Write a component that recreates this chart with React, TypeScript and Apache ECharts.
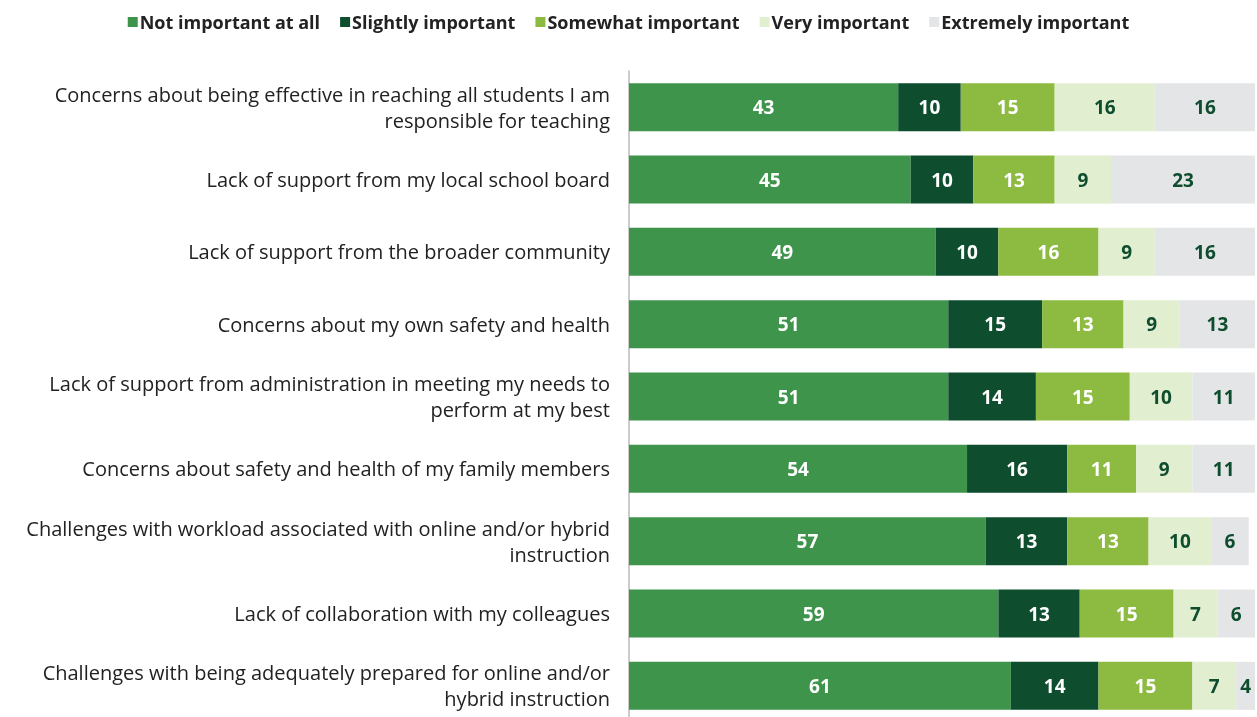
import React, { useEffect, useRef } from "react";
import * as echarts from "echarts";

const categories = [
  "Concerns about being effective in reaching all students I am\nresponsible for teaching",
  "Lack of support from my local school board",
  "Lack of support from the broader community",
  "Concerns about my own safety and health",
  "Lack of support from administration in meeting my needs to\nperform at my best",
  "Concerns about safety and health of my family members",
  "Challenges with workload associated with online and/or hybrid\ninstruction",
  "Lack of collaboration with my colleagues",
  "Challenges with being adequately prepared for online and/or\nhybrid instruction",
];

const seriesNames = [
  "Not important at all",
  "Slightly important",
  "Somewhat important",
  "Very important",
  "Extremely important",
];

const notImportant = [43, 45, 49, 51, 51, 54, 57, 59, 61];
const slightly = [10, 10, 10, 15, 14, 16, 13, 13, 14];
const somewhat = [15, 13, 16, 13, 15, 11, 13, 15, 15];
const very = [16, 9, 9, 9, 10, 9, 10, 7, 7];
const extremely = [16, 23, 16, 13, 11, 11, 6, 6, 4];

const colors = ["#3d944a", "#0e4d2d", "#8dbb41", "#e2eed0", "#e4e5e7"];
const labelColors = ["#ffffff", "#ffffff", "#ffffff", "#0e4d2d", "#0e4d2d"];

const FONT = "'Open Sans', sans-serif";

export default function App() {
  const ref = useRef<HTMLDivElement>(null);
  useEffect(() => {
    if (!ref.current) return;
    const chart = echarts.init(ref.current, undefined, { renderer: "svg" });
    const data = [notImportant, slightly, somewhat, very, extremely];
    chart.setOption({
      animation: false,
      legend: {
        top: 8,
        left: "center",
        itemWidth: 10,
        itemHeight: 10,
        itemGap: 20,
        icon: "rect",
        textStyle: { fontFamily: FONT, fontSize: 18, fontWeight: "bold", color: "#222", padding: [0, 0, 0, -3] },
        data: seriesNames,
      },
      grid: { left: 629, right: 2, top: 71, height: 651, containLabel: false },
      xAxis: {
        type: "value",
        min: 0,
        max: 100,
        show: false,
      },
      yAxis: {
        type: "category",
        inverse: true,
        data: categories,
        axisLine: { show: true, lineStyle: { color: "#bbbbbb", width: 1.5 } },
        axisTick: { show: false },
        axisLabel: {
          margin: 19,
          fontFamily: FONT,
          fontSize: 20,
          color: "#222",
          lineHeight: 26,
          align: "right",
        },
      },
      series: seriesNames.map((name, i) => ({
        name,
        type: "bar",
        stack: "total",
        barWidth: 48,
        data: data[i],
        itemStyle: { color: colors[i] },
        label: {
          show: true,
          position: "inside",
          fontFamily: FONT,
          fontSize: 19,
          fontWeight: "bold",
          color: labelColors[i],
        },
      })),
    });
    return () => chart.dispose();
  }, []);
  return (
    <div
      ref={ref}
      style={{ position: "fixed", left: 0, top: 0, width: 1257, height: 740 }}
    />
  );
}
